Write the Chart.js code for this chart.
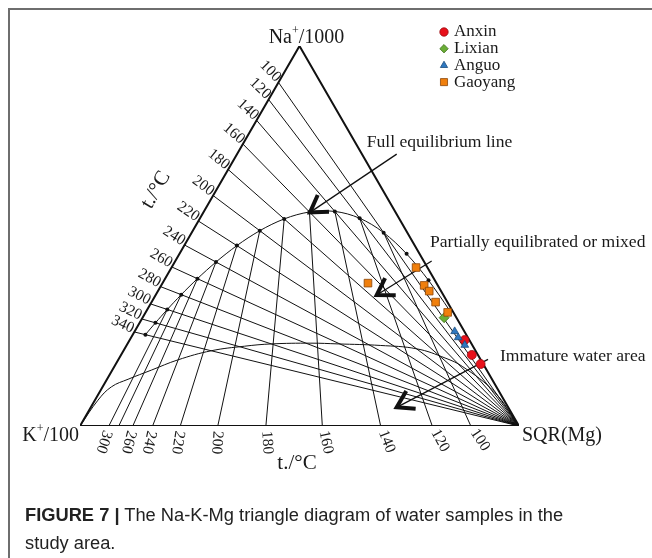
<!DOCTYPE html>
<html>
<head>
<meta charset="utf-8">
<script src="https://cdn.jsdelivr.net/npm/chart.js@4.4.1/dist/chart.umd.min.js"></script>
<style>
  html, body { margin: 0; padding: 0; background: #fff; }
  #wrap { position: relative; width: 652px; height: 558px; overflow: hidden; }
  #frame { position: absolute; left: 8px; top: 8px; width: 660px; height: 560px; border-top: 2px solid #6e6e6e; border-left: 2px solid #6e6e6e; }
  #chart { position: absolute; left: 0; top: 0; }
  #caption { position: absolute; left: 25px; top: 501px; font-family: "Liberation Sans", Arial, sans-serif; font-size: 18.3px; line-height: 28px; color: #222; white-space: nowrap; }
</style>
</head>
<body>
<div id="wrap">
  <div id="frame"></div>
  <canvas id="chart" width="652" height="558"></canvas>
  <div id="caption"><b>FIGURE 7 |</b> The Na-K-Mg triangle diagram of water samples in the<br>study area.</div>
</div>
<script>
const anxin = [[22.6, 1.1, 76.3], [18.7, 1.4, 79.9], [16.3, 0.6, 83.1]]
const lixian = [[28.5, 2.8, 68.7]]
const anguo = [[24.9, 2.2, 72.9], [23.3, 2.2, 74.5], [21.3, 1.7, 77.0]]
const gaoyang = [[41.7, 2.6, 55.7], [37.6, 15.6, 46.8], [37.0, 3.1, 59.9], [35.5, 2.7, 61.8], [32.6, 2.7, 64.7], [29.9, 1.3, 68.8]]

// lower boundary of partial equilibrium (same units)
const immatureLine = [[0, 100, 0], [6.8, 92.5, 0.7], [10.3, 87.7, 2.0], [12.3, 82.9, 4.8], [14.7, 76.4, 8.9],
  [17.4, 69.0, 13.6], [19.8, 60.2, 20.0], [21.0, 52.0, 27.0], [21.6, 45.6, 32.8], [21.8, 36.5, 41.7],
  [21.6, 30.4, 48.0], [21.2, 21.0, 57.8], [20.3, 13.1, 66.6], [17.9, 7.9, 74.2], [15.6, 5.0, 79.4],
  [8.9, 1.1, 90.0], [0, 0, 100]]

// isotherms (degC)
const naKTemps = [100, 120, 140, 160, 180, 200, 220, 240, 260, 280, 300, 320, 340]
const kMgTemps = [100, 120, 140, 160, 180, 200, 220, 240, 260, 280, 300]
const kMgLabels = [100, 120, 140, 160, 180, 200, 220, 240, 260, 300]
const eqDotTemps = [60, 80, 100, 120, 140, 160, 180, 200, 220, 240, 260, 280, 300, 320, 340]

const SQ3 = Math.sqrt(3) / 2
const serif = '"Liberation Serif", "Times New Roman", serif'

function toXY(na, k, mg) {
  const s = na + k + mg
  return { x: (mg + na / 2) / s, y: (na / s) * SQ3 }
}

// Giggenbach (1988): t_kn and t_km
function naOverK(t) { return Math.pow(10, 1390 / (t + 273.15) - 1.75) }
function k2OverMg(t) { return Math.pow(10, 14.0 - 4410 / (t + 273.15)) }
function ratioXY(naK, k2Mg) { return toXY(naK / 10, 1, 100 / Math.sqrt(k2Mg)) }

const vK = { x: 0, y: 0 }, vMg = { x: 1, y: 0 }, vNa = { x: 0.5, y: SQ3 }
const leftPt = t => toXY(naOverK(t) / 10, 1, 0)
const basePt = t => toXY(0, 1, 100 / Math.sqrt(k2OverMg(t)))
const eqPt = t => ratioXY(naOverK(t), k2OverMg(t))

const lineStyle = { showLine: true, pointRadius: 0, borderColor: '#111', borderWidth: 1, fill: false, order: 5 }
const datasets = []

datasets.push({ ...lineStyle, data: [vK, vMg, vNa, vK], borderWidth: 2, order: 4 })
naKTemps.forEach(t => datasets.push({ ...lineStyle, data: [leftPt(t), vMg] }))
kMgTemps.forEach(t => datasets.push({ ...lineStyle, data: [basePt(t), eqPt(t)] }))

// full equilibrium line
const eqCurve = []
for (let t = 40; t <= 340; t += 5) eqCurve.push(eqPt(t))
datasets.push({ ...lineStyle, data: eqCurve })

datasets.push({ ...lineStyle, data: immatureLine.map(r => toXY(r[0], r[1], r[2])), tension: 0.4 })

datasets.push({ showLine: false, data: eqDotTemps.map(eqPt), pointRadius: 2, backgroundColor: '#111', borderWidth: 0, order: 3 })

const sites = [
  { label: 'Anxin', rows: anxin, style: 'circle', radius: 4.5, color: '#e8101a', edge: '#9a0a10' },
  { label: 'Lixian', rows: lixian, style: 'rectRot', radius: 5, color: '#6aae36', edge: '#3d6e1c' },
  { label: 'Anguo', rows: anguo, style: 'triangle', radius: 4.5, color: '#2e78c0', edge: '#1c4c7c' },
  { label: 'Gaoyang', rows: gaoyang, style: 'rect', radius: 5.4, color: '#f07f0c', edge: '#8a4508' },
]
sites.forEach((s, i) => datasets.push({
  label: s.label, showLine: false, order: 2 - i * 0.1,
  data: s.rows.map(r => toXY(r[0], r[1], r[2])),
  pointStyle: s.style, pointRadius: s.radius, backgroundColor: s.color, borderColor: s.edge, borderWidth: 0.8
}))

// annotations in plot units
const notes = [
  { text: 'Full equilibrium line', x: 0.653, y: 0.6454 },
  { text: 'Partially equilibrated or mixed', x: 0.7973, y: 0.4185 },
  { text: 'Immature water area', x: 0.9567, y: 0.1579 },
]
const arrows = [
  { from: { x: 0.7214, y: 0.6196 }, to: { x: 0.5239, y: 0.4868 } },
  { from: { x: 0.8011, y: 0.3759 }, to: { x: 0.6759, y: 0.2984 } },
  { from: { x: 0.9294, y: 0.1519 }, to: { x: 0.7214, y: 0.0426 } },
]

function pix(chart, p) {
  return { x: chart.scales.x.getPixelForValue(p.x), y: chart.scales.y.getPixelForValue(p.y) }
}

const decor = {
  id: 'decor',
  beforeDatasetsDraw(chart) {
    const ctx = chart.ctx
    ctx.save()
    ctx.strokeStyle = '#111'
    ctx.lineJoin = 'miter'
    arrows.forEach(a => {
      const p1 = pix(chart, a.from), p2 = pix(chart, a.to)
      ctx.lineWidth = 1.3
      ctx.beginPath(); ctx.moveTo(p1.x, p1.y); ctx.lineTo(p2.x, p2.y); ctx.stroke()
      const ang = Math.atan2(p1.y - p2.y, p1.x - p2.x), spread = 0.56, len = 19
      ctx.lineWidth = 4
      ctx.beginPath()
      ctx.moveTo(p2.x + len * Math.cos(ang - spread), p2.y + len * Math.sin(ang - spread))
      ctx.lineTo(p2.x, p2.y)
      ctx.lineTo(p2.x + len * Math.cos(ang + spread), p2.y + len * Math.sin(ang + spread))
      ctx.stroke()
    })
    ctx.restore()
  },
  afterDatasetsDraw(chart) {
    const ctx = chart.ctx
    const na = pix(chart, vNa), k = pix(chart, vK), mg = pix(chart, vMg)
    ctx.save()
    ctx.fillStyle = '#1a1a1a'

    // corner labels
    ctx.textBaseline = 'middle'
    ctx.font = '20px ' + serif
    let w1 = ctx.measureText('Na').width, w3 = ctx.measureText('/1000').width
    ctx.font = '12px ' + serif
    let w2 = ctx.measureText('+').width
    let x0 = na.x + 7 - (w1 + w2 + w3) / 2, y0 = na.y - 8
    ctx.textAlign = 'left'
    ctx.font = '20px ' + serif
    ctx.fillText('Na', x0, y0)
    ctx.fillText('/1000', x0 + w1 + w2, y0)
    ctx.font = '12px ' + serif
    ctx.fillText('+', x0 + w1, y0 - 7)

    ctx.font = '20px ' + serif
    w1 = ctx.measureText('K').width; w3 = ctx.measureText('/100').width
    ctx.font = '12px ' + serif
    w2 = ctx.measureText('+').width
    x0 = k.x - 1 - (w1 + w2 + w3); y0 = k.y + 10
    ctx.font = '20px ' + serif
    ctx.fillText('K', x0, y0)
    ctx.fillText('/100', x0 + w1 + w2, y0)
    ctx.font = '12px ' + serif
    ctx.fillText('+', x0 + w1, y0 - 7)

    ctx.font = '20px ' + serif
    ctx.fillText('SQR(Mg)', mg.x + 3, mg.y + 10)

    // axis titles
    ctx.font = '21px ' + serif
    ctx.textAlign = 'center'
    ctx.fillText('t./\u00b0C', 297, mg.y + 37)
    ctx.save()
    ctx.translate(156, 190)
    ctx.rotate(-Math.PI / 3)
    ctx.fillText('t./\u00b0C', 0, 0)
    ctx.restore()

    // tick labels on the Na-K side
    ctx.font = '15.5px ' + serif
    naKTemps.forEach(t => {
      const p = pix(chart, leftPt(t))
      const th = Math.atan2(mg.y - p.y, mg.x - p.x)
      ctx.save()
      ctx.translate(p.x, p.y)
      ctx.rotate(th / 2 + 18 * Math.PI / 180)
      ctx.textAlign = 'right'
      ctx.fillText(String(t), -2, -2)
      ctx.restore()
    })
    // tick labels on the K-Mg side
    kMgLabels.forEach(t => {
      const p = pix(chart, basePt(t))
      const th = Math.atan2(p.y - na.y, p.x - na.x)
      ctx.save()
      ctx.translate(p.x, p.y)
      ctx.rotate(th - 9 * Math.PI / 180)
      ctx.textAlign = 'left'
      ctx.fillText(String(t), 5, 0)
      ctx.restore()
    })

    // notes
    ctx.font = '17.6px ' + serif
    ctx.textAlign = 'left'
    notes.forEach(n => {
      const p = pix(chart, n)
      ctx.fillText(n.text, p.x, p.y)
    })

    // legend
    const lx = mg.x - 75, ly = na.y - 14
    sites.forEach((s, i) => {
      const y = ly + i * 16.7
      ctx.fillStyle = s.color
      ctx.strokeStyle = s.edge
      ctx.lineWidth = 0.8
      Chart.helpers.drawPoint(ctx, { pointStyle: s.style, radius: s.style === 'rect' ? 5 : 4.2, rotation: 0, borderWidth: 0.8 }, lx, y)
      ctx.fillStyle = '#1a1a1a'
      ctx.font = '17px ' + serif
      ctx.fillText(s.label, lx + 10, y)
    })
    ctx.restore()
  }
}

new Chart(document.getElementById('chart'), {
  type: 'scatter',
  data: { datasets },
  options: {
    responsive: false,
    animation: false,
    events: [],
    layout: { padding: { left: 80, right: 133, top: 46, bottom: 132 } },
    scales: {
      x: { type: 'linear', min: 0, max: 1, display: false },
      y: { type: 'linear', min: 0, max: SQ3, display: false }
    },
    elements: { line: { tension: 0 } },
    plugins: { legend: { display: false }, tooltip: { enabled: false } }
  },
  plugins: [decor]
})
</script>
</body>
</html>
